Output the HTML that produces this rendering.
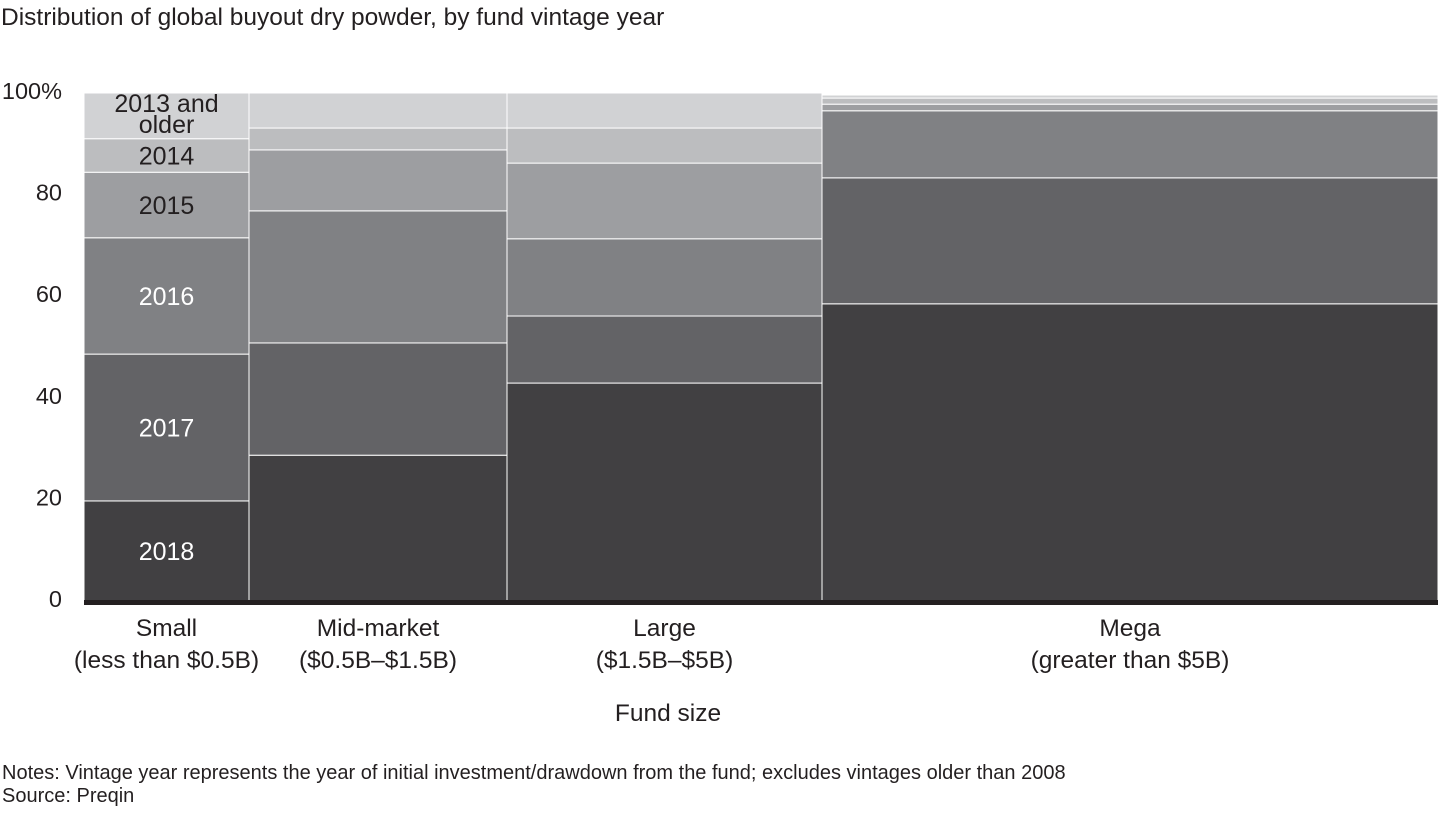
<!DOCTYPE html>
<html><head><meta charset="utf-8"><style>
body{margin:0;background:#fff;font-family:"Liberation Sans",Arial,sans-serif;}
svg text{font-family:"Liberation Sans",Arial,sans-serif;}
</style></head><body>
<svg id="chart" width="1440" height="810">
<text x="1" y="25" font-size="24.5" fill="#231f20">Distribution of global buyout dry powder, by fund vintage year</text>
<g id="yaxis"></g>
<g id="bars"></g>
<g id="xaxis"></g>
<text x="668" y="721" font-size="24.5" fill="#231f20" text-anchor="middle">Fund size</text>
<text x="2" y="779" font-size="20" fill="#231f20">Notes: Vintage year represents the year of initial investment/drawdown from the fund; excludes vintages older than 2008</text>
<text x="2" y="802" font-size="20" fill="#231f20">Source: Preqin</text>
</svg>
<script>
const categories=["Small","Mid-market","Large","Mega"];
const subLabels=["(less than $0.5B)","($0.5B\u2013$1.5B)","($1.5B\u2013$5B)","(greater than $5B)"];
const widths=[165,258,315,616];
const series=["2018","2017","2016","2015","2014","2013 and older"];
const v2018=[19.7,28.7,42.9,58.5];
const v2017=[28.9,22.1,13.2,24.8];
const v2016=[22.9,26.0,15.2,13.2];
const v2015=[12.9,12.0,14.9,1.3];
const v2014=[6.6,4.3,6.9,1.2];
const vOlder=[9.0,6.9,6.9,0.6];
const yTicks=[0,20,40,60,80,100];
const colors=["#414042","#636366","#808184","#9d9ea1","#bcbdbf","#d1d2d4"];
const ns="http://www.w3.org/2000/svg";
const X0=84,Y0=601,PH=508;
const y=v=>Y0-v/100*PH;
function mk(tag,at,parent){const e=document.createElementNS(ns,tag);for(const k in at)e.setAttribute(k,at[k]);parent.appendChild(e);return e;}
const yg=document.getElementById('yaxis'),bg=document.getElementById('bars'),xg=document.getElementById('xaxis');
yTicks.forEach(t=>{const e=mk('text',{x:62,y:y(t)+6,'font-size':23.5,fill:'#231f20','text-anchor':'end'},yg);


e.textContent=t===100?'100%':t;});
const all=[v2018,v2017,v2016,v2015,v2014,vOlder];
let x=X0;
categories.forEach((c,i)=>{let cum=0;const w=widths[i];
all.forEach((arr,s)=>{const v=arr[i];const r=mk('rect',{x:x,y:y(cum+v),width:w,height:y(cum)-y(cum+v),fill:colors[s],stroke:'#fff','stroke-width':1},bg);


if(i===0){const cy=(y(cum)+y(cum+v))/2;
if(s===5){[['2013 and',y(cum+v)+19],['older',y(cum+v)+40]].forEach(([tx,ty])=>{const t=mk('text',{x:x+w/2,y:ty,'font-size':25,'text-anchor':'middle',fill:'#231f20'},bg);

t.textContent=tx;});}
else{const t=mk('text',{x:x+w/2,y:cy+9,'font-size':25,'text-anchor':'middle',fill:s<3?'#fff':'#231f20'},bg);

t.textContent=series[s];}}
cum+=v;});
[[c,636],[subLabels[i],668]].forEach(([tx,ty])=>{const t=mk('text',{x:x+w/2,y:ty,'font-size':24.5,'text-anchor':'middle',fill:'#231f20'},xg);

t.textContent=tx;});
x+=w;});
const ax=mk('rect',{x:X0,y:Y0-1,width:x-X0,height:5,fill:'#231f20'},xg);


</script>
</body></html>
